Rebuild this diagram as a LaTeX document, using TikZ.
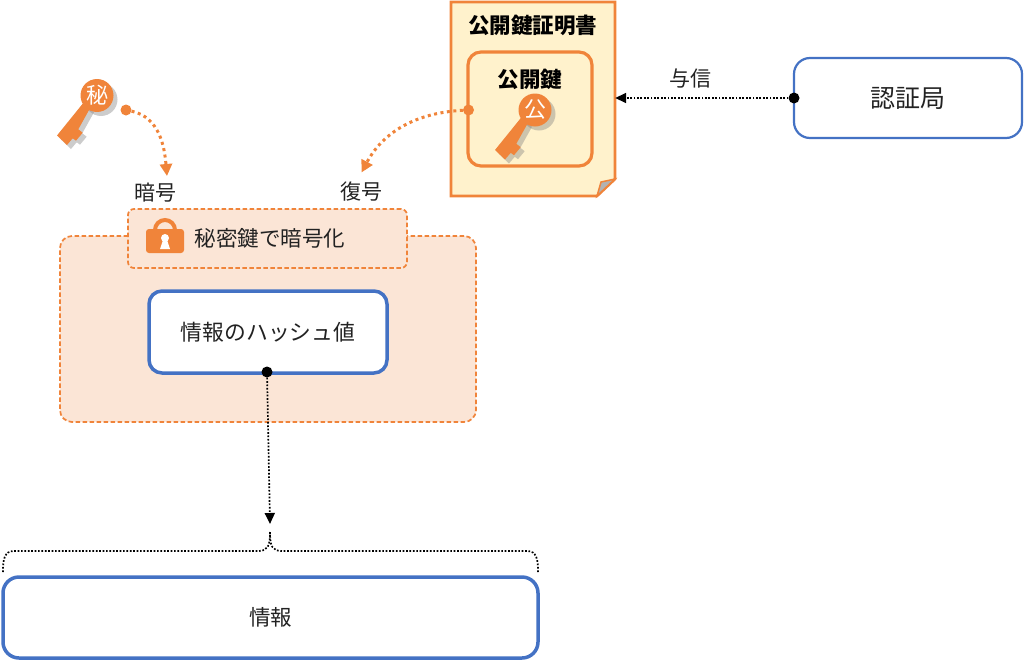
\documentclass[tikz,border=0pt]{standalone}
\usepackage{fontspec}
\setmainfont{Noto Sans CJK JP}
\usetikzlibrary{positioning,arrows.meta}
\definecolor{keyOrange}{HTML}{F0843A}
\definecolor{boxBlue}{HTML}{4472C4}
\definecolor{paleOrange}{HTML}{FBE5D6}
\definecolor{paleYellow}{HTML}{FFF2CC}
\definecolor{inkGray}{HTML}{222222}
\tikzset{
	keyoutline/.style={insert path={(-14,7.8) -- (-40,40) -- (-30,49.5) -- (-24.3,42.8) -- (-21,45.2) -- (-14.3,37.2) -- (-18.7,33.8) -- (-7,12.8) -- cycle}},
	pics/keyglyph/.style={code={
		\begin{scope}[shift={(4,4)},gray,opacity=0.4]
			\fill (0,0) circle (16.5);
			\fill [keyoutline];
		\end{scope}
		\fill [keyOrange] (0,0) circle (16.5);
		\fill [keyOrange, keyoutline];
		\node (-label) [text=white, font=\fontsize{22}{26}\selectfont, inner sep=0] at (0,0) {#1};
	}}
}
\begin{document}
\begin{tikzpicture}[x=1pt,y=-1pt,text=inkGray,font=\fontsize{21}{25}\selectfont]
		\tikzstyle{blueBox} = [rectangle, rounded corners=13pt, draw=boxBlue, line width=3.5pt, fill=white, text centered]
		\tikzstyle{dashedBox} = [rectangle, draw=keyOrange, line width=1.7pt, fill=paleOrange, dash pattern=on 4.5pt off 2.5pt]
		\tikzstyle{blackDot} = [circle, fill=black, inner sep=0, minimum size=11pt]
		\tikzstyle{orangeDot} = [circle, fill=keyOrange, inner sep=0, minimum size=11pt]
		\tikzstyle{refers} = [line width=1.7pt, dash pattern=on 1.7pt off 1.7pt, -{Triangle[length=11pt,width=10pt]}]
		\tikzstyle{keyflow} = [keyOrange, line width=3pt, dash pattern=on 3pt off 3.5pt, -{Triangle[length=12pt,width=12pt]}]
		\tikzstyle{bracket} = [line width=1.7pt, dash pattern=on 1.7pt off 1.7pt]
		
		\useasboundingbox (0,0) rectangle (1024,661);
		
		\node (signedArea) [dashedBox, rounded corners=12pt, minimum width=416pt, minimum height=186pt] at (268,329) {};
		\node (encryptTag) [dashedBox, rounded corners=6pt, minimum width=279pt, minimum height=59pt] at (267.5,238.5) {};
		\node (encryptText) [anchor=west, inner sep=0, font=\fontsize{21.5}{25}\selectfont] at (194.5,238) {秘密鍵で暗号化};
		\node (hashBox) [blueBox, minimum width=238pt, minimum height=82pt, font=\fontsize{21.8}{25}\selectfont] at (268,332) {情報のハッシュ値};
		\node (infoBox) [blueBox, rounded corners=16pt, minimum width=535pt, minimum height=81pt, font=\fontsize{21.5}{25}\selectfont] at (270.5,617.5) {情報};
		\node (authorityBox) [blueBox, rounded corners=16pt, line width=2.2pt, minimum width=228pt, minimum height=80pt, font=\fontsize{25}{29}\selectfont] at (908,98) {認証局};
		
		\fill [paleYellow, draw=keyOrange, line width=2.7pt] (451,2) -- (615,2) -- (615,179) -- (597,196) -- (451,196) -- cycle;
		\fill [gray!60, draw=keyOrange, line width=1.5pt] (615,179) -- (601,182) -- (597,196) -- cycle;
		\node (certificate) [minimum width=164pt, minimum height=192pt, inner sep=0] at (533,98) {};
		\node (certTitle) [font=\fontsize{21.5}{25}\selectfont\bfseries, text=black] at (532.5,25) {公開鍵証明書};
		\node (publicBox) [rectangle, rounded corners=13pt, draw=keyOrange, line width=3.2pt, minimum width=124pt, minimum height=114pt] at (530,109) {};
		\node (publicTitle) [font=\fontsize{21.5}{25}\selectfont\bfseries, text=black] at (530,79) {公開鍵};
		
		\pic (publicKey) at (535,110) {keyglyph=公};
		\pic (secretKey) at (97,95.5) {keyglyph=秘};
		
		\fill [keyOrange, rounded corners=3pt] (146,229) rectangle (184,253);
		\draw [keyOrange, line width=4pt] (155,231) -- (155,230) arc[start angle=180, end angle=360, radius=10] -- (175,231);
		\fill [white] (165,238) circle (4);
		\fill [white] (163,240) -- (160,249) -- (170,249) -- (167,240) -- cycle;
		
		\node (secretDot) [orangeDot] at (126,110) {};
		\node (publicDot) [orangeDot] at (468.5,110) {};
		\node (encryptLabel) at (155,193) {暗号};
		\node (decryptLabel) at (361,192) {復号};
		\coordinate (encryptTip) at (167,176);
		\coordinate (decryptTip) at (361.5,172.5);
		
		\draw [keyflow] (secretDot) to[out=-12,in=95] (encryptTip);
		\draw [keyflow] (publicDot) to[out=183,in=62] (decryptTip);
		
		\node (authorityDot) [blackDot] at (794,98) {};
		\node (trustLabel) at (690,79) {与信};
		\draw [refers] (authorityDot) -- (certificate);
		
		\node (hashDot) [blackDot] at (267,372) {};
		\coordinate (bracketTip) at (270,524);
		\draw [refers] (hashDot) -- (bracketTip);
		
		\coordinate (bracketLeft) at (3,572);
		\coordinate (bracketRight) at (538,572);
		\coordinate (bracketTop) at (270,532);
		\draw [bracket] (bracketLeft) .. controls (3,560) and (4,551) .. (14,551) -- (258,551) .. controls (268,551) and (270,546) .. (bracketTop);
		\draw [bracket] (bracketRight) .. controls (538,560) and (537,551) .. (527,551) -- (282,551) .. controls (272,551) and (270,546) .. (bracketTop);
		
	\end{tikzpicture}
\end{document}
